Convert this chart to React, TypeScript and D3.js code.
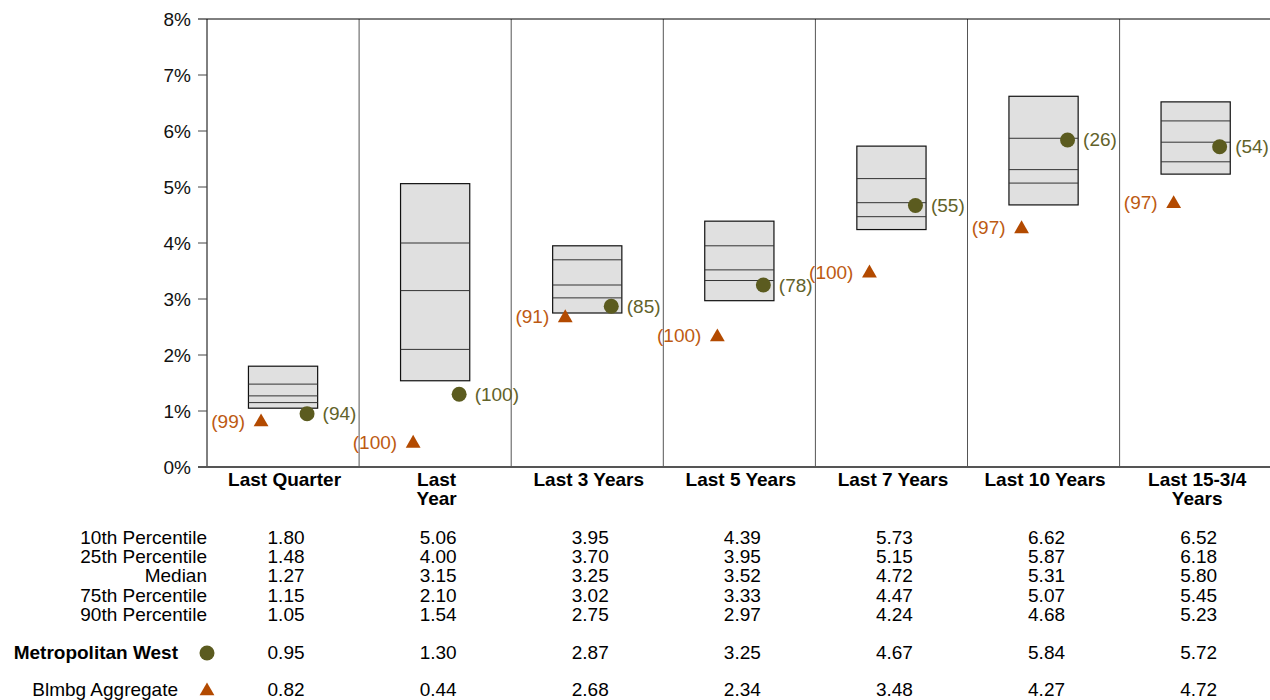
import React from "react";
import * as d3 from "d3";

const categories = ["Last Quarter", "Last\nYear", "Last 3 Years", "Last 5 Years", "Last 7 Years", "Last 10 Years", "Last 15-3/4\nYears"];
const p10 = [1.80, 5.06, 3.95, 4.39, 5.73, 6.62, 6.52];
const p25 = [1.48, 4.00, 3.70, 3.95, 5.15, 5.87, 6.18];
const median = [1.27, 3.15, 3.25, 3.52, 4.72, 5.31, 5.80];
const p75 = [1.15, 2.10, 3.02, 3.33, 4.47, 5.07, 5.45];
const p90 = [1.05, 1.54, 2.75, 2.97, 4.24, 4.68, 5.23];
const fundValues = [0.95, 1.30, 2.87, 3.25, 4.67, 5.84, 5.72];
const fundRanks = [94, 100, 85, 78, 55, 26, 54];
const indexValues = [0.82, 0.44, 2.68, 2.34, 3.48, 4.27, 4.72];
const indexRanks = [99, 100, 91, 100, 100, 97, 97];
const yTicks = [0, 1, 2, 3, 4, 5, 6, 7, 8];
const rowLabels = ["10th Percentile", "25th Percentile", "Median", "75th Percentile", "90th Percentile"];
const fundName = "Metropolitan West";
const indexName = "Blmbg Aggregate";

const FONT = "'Liberation Sans', Arial, Helvetica, sans-serif";
const FS = 19;
const BOX_FILL = "#e0e0e0";
const FUND_COLOR = "#5b5b1f";
const FUND_TEXT = "#62622a";
const INDEX_COLOR = "#b34a00";
const INDEX_TEXT = "#bd5a12";

export default function App() {
  const left = 207;
  const colW = 152.1;
  const top = 19;
  const bottom = 467;
  const x = d3.scaleBand<number>().domain(d3.range(categories.length)).range([left, left + colW * categories.length]).paddingInner(0).paddingOuter(0);
  const y = d3.scaleLinear().domain([0, 8]).range([bottom, top]);
  const bw = x.bandwidth();
  const boxW = bw * 0.455;
  const cx = (i: number) => (x(i) as number) + bw / 2;
  const tri = d3.symbol().type(d3.symbolTriangle).size(95)();
  const tableRows = [p10, p25, median, p75, p90];
  const rowY0 = 544;
  const rowStep = 19.2;
  const fundRowY = 659;
  const indexRowY = 696;

  return (
    <svg width={1270} height={700} style={{ position: "absolute", left: 0, top: 0, background: "#fff" }} fontFamily={FONT}>
      {/* column separators */}
      {categories.map((_, i) => (
        <line key={"sep" + i} x1={x(i)} x2={x(i)} y1={top} y2={bottom} stroke={i === 0 ? "#000" : "#555"} strokeWidth={1} />
      ))}
      <line x1={left + colW * categories.length} x2={left + colW * categories.length} y1={top} y2={bottom} stroke="#555" />
      {/* top border */}
      <line x1={left - 9} x2={1272} y1={top} y2={top} stroke="#000" strokeWidth={1} />
      {/* y ticks */}
      {yTicks.map((t) => (
        <g key={"yt" + t}>
          {t !== 8 && t !== 0 && <line x1={left - 9} x2={left} y1={y(t)} y2={y(t)} stroke="#444" />}
          <text x={191} y={y(t) + 6.5} textAnchor="end" fontSize={FS} fill="#111">{t}%</text>
        </g>
      ))}
      {/* bottom axis */}
      <line x1={left - 9} x2={1272} y1={bottom} y2={bottom} stroke="#555" strokeWidth={2} />
      {/* boxes */}
      {categories.map((_, i) => {
        const c = cx(i);
        return (
          <g key={"box" + i}>
            <rect x={c - boxW / 2} y={y(p10[i])} width={boxW} height={y(p90[i]) - y(p10[i])} fill={BOX_FILL} stroke="#111" strokeWidth={1.2} />
            {[p25[i], median[i], p75[i]].map((v, k) => (
              <line key={k} x1={c - boxW / 2} x2={c + boxW / 2} y1={y(v)} y2={y(v)} stroke="#333" strokeWidth={1} />
            ))}
          </g>
        );
      })}
      {/* index markers */}
      {categories.map((_, i) => {
        const tx = cx(i) - 22;
        return (
          <g key={"idx" + i}>
            <path d={tri as string} transform={`translate(${tx},${y(indexValues[i]) + 1})`} fill={INDEX_COLOR} />
            <text x={tx - 16} y={y(indexValues[i]) + 6.5} textAnchor="end" fontSize={FS} fill={INDEX_TEXT}>({indexRanks[i]})</text>
          </g>
        );
      })}
      {/* fund markers */}
      {categories.map((_, i) => {
        const fx = cx(i) + 24;
        return (
          <g key={"fund" + i}>
            <circle cx={fx} cy={y(fundValues[i])} r={7.5} fill={FUND_COLOR} />
            <text x={fx + 15.5} y={y(fundValues[i]) + 6.5} fontSize={FS} fill={FUND_TEXT}>({fundRanks[i]})</text>
          </g>
        );
      })}
      {/* category labels */}
      {categories.map((cat, i) => (
        <text key={"cat" + i} x={cx(i) + 1.5} y={486} textAnchor="middle" fontSize={FS} fontWeight="bold" fill="#000">
          {cat.split("\n").map((ln, k) => (
            <tspan key={k} x={cx(i) + 1.5} dy={k === 0 ? 0 : 19}>{ln}</tspan>
          ))}
        </text>
      ))}
      {/* table */}
      {rowLabels.map((lab, r) => (
        <g key={"row" + r}>
          <text x={207} y={rowY0 + r * rowStep} textAnchor="end" fontSize={FS} fill="#000">{lab}</text>
          {tableRows[r].map((v, i) => (
            <text key={i} x={cx(i) + 3} y={rowY0 + r * rowStep} textAnchor="middle" fontSize={FS} fill="#000">{v.toFixed(2)}</text>
          ))}
        </g>
      ))}
      <text x={178} y={fundRowY} textAnchor="end" fontSize={FS} fontWeight="bold" fill="#000">{fundName}</text>
      <circle cx={207} cy={fundRowY - 6} r={7.5} fill={FUND_COLOR} />
      {fundValues.map((v, i) => (
        <text key={"fv" + i} x={cx(i) + 3} y={fundRowY} textAnchor="middle" fontSize={FS} fill="#000">{v.toFixed(2)}</text>
      ))}
      <text x={178} y={indexRowY} textAnchor="end" fontSize={FS} fill="#000">{indexName}</text>
      <path d={tri as string} transform={`translate(207,${indexRowY - 5})`} fill={INDEX_COLOR} />
      {indexValues.map((v, i) => (
        <text key={"iv" + i} x={cx(i) + 3} y={indexRowY} textAnchor="middle" fontSize={FS} fill="#000">{v.toFixed(2)}</text>
      ))}
    </svg>
  );
}
